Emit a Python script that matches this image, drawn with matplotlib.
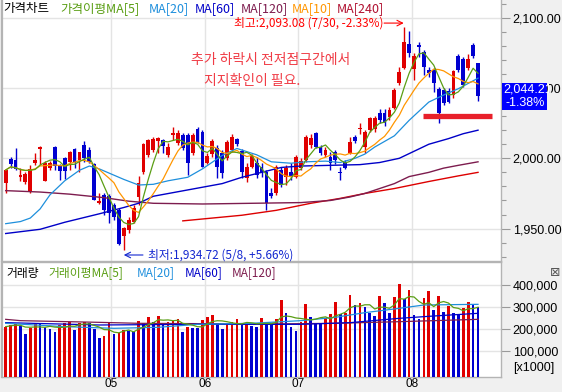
import matplotlib
matplotlib.use("Agg")
import matplotlib.pyplot as plt
import matplotlib.transforms as mtransforms
from matplotlib.patches import Rectangle
from matplotlib.ticker import MultipleLocator, FuncFormatter
import numpy as np
import pandas as pd

KR = ["Noto Sans CJK KR", "DejaVu Sans"]
NUM = ["Liberation Sans Narrow", "Liberation Sans", "DejaVu Sans"]
plt.rcParams["font.family"] = NUM

# 일봉 데이터 (4월 초 ~ 8월 하순, 97 거래일)
opens = [1982.7, 1999.5, 1998.8, 1986.5, 1983.4, 1976.3, 1996.9, 2006.9, 1984.1, 1992.9,
         2008.3, 1994.5, 2000.4, 1997.6, 2006.4, 1998.8, 2009.5, 2005.9, 1996.0, 1968.0,
         1973.9, 1973.2, 1966.8, 1963.2, 1944.7, 1949.0, 1954.9, 1972.2, 1990.0, 2002.4,
         2005.9, 2012.3, 2013.0, 2002.4, 2016.6, 2010.6, 2016.6, 2016.6, 2003.5, 2020.6,
         2018.9, 1996.9, 2003.0, 2007.1, 2003.5, 1999.9, 2005.9, 2013.5, 2005.2, 1985.7,
         1994.0, 1996.4, 1994.0, 1990.5, 1975.1, 1975.1, 1991.7, 1986.9, 1990.5, 1986.9,
         1992.9, 1998.8, 2009.5, 2017.8, 2008.3, 2002.4, 2001.2, 2004.7, 1990.5, 1997.6,
         2004.0, 2014.9, 2020.6, 2008.3, 2020.1, 2020.6, 2032.4, 2032.4, 2029.6, 2035.5,
         2053.3, 2064.0, 2081.3, 2063.3, 2080.5, 2075.8, 2062.8, 2062.8, 2049.3, 2048.6,
         2048.1, 2045.0, 2072.8, 2070.4, 2064.0, 2080.6, 2067.5]
highs = [1992.5, 2001.2, 2007.1, 1992.9, 1990.5, 1995.0, 2003.5, 2008.7, 1998.3, 1998.0,
         2008.7, 1996.0, 2001.2, 2005.2, 2007.1, 2004.7, 2012.5, 2008.3, 1997.0, 1975.1,
         1975.1, 1974.6, 1968.0, 1964.4, 1951.0, 1958.0, 1966.8, 1987.4, 2011.0, 2013.5,
         2015.4, 2015.4, 2014.0, 2010.7, 2022.5, 2020.1, 2017.8, 2017.8, 2017.8, 2022.5,
         2020.1, 2003.5, 2014.0, 2009.5, 2005.9, 2013.0, 2017.0, 2014.7, 2006.4, 1996.4,
         2003.0, 2001.2, 1996.4, 1991.7, 1978.6, 1995.2, 1994.0, 1995.2, 1996.4, 2002.4,
         2000.0, 2016.6, 2017.0, 2018.9, 2009.5, 2008.3, 2004.7, 2006.0, 1994.0, 1998.8,
         2015.4, 2016.6, 2024.9, 2020.0, 2029.6, 2030.1, 2034.8, 2034.8, 2036.2, 2049.8,
         2065.2, 2093.08, 2090.5, 2074.7, 2082.5, 2077.0, 2065.2, 2064.0, 2051.0, 2049.8,
         2049.8, 2062.8, 2073.9, 2071.8, 2073.9, 2082.2, 2068.0]
lows = [1975.0, 1992.9, 1991.7, 1984.1, 1981.5, 1975.5, 1995.2, 1995.2, 1983.5, 1991.5,
        1991.7, 1984.6, 1985.0, 1991.7, 1992.9, 1990.5, 1997.6, 1996.4, 1970.0, 1967.5,
        1959.7, 1954.2, 1956.1, 1938.5, 1934.72, 1947.0, 1953.7, 1966.8, 1989.0, 2001.2,
        2004.7, 2003.5, 2004.0, 2001.2, 2013.0, 2009.5, 2005.9, 1988.1, 2002.4, 2010.6,
        1993.6, 1996.0, 2001.0, 1985.7, 1985.7, 1998.8, 2004.7, 2008.7, 1985.7, 1983.4,
        1992.9, 1985.7, 1986.9, 1963.2, 1971.5, 1973.9, 1979.8, 1981.0, 1984.6, 1985.7,
        1992.0, 1997.6, 2007.0, 2007.0, 2002.4, 2001.2, 1991.7, 1996.0, 1984.6, 1992.2,
        2003.0, 2010.6, 2017.0, 2004.0, 2018.9, 2018.9, 2024.9, 2023.0, 2027.2, 2034.8,
        2052.1, 2063.3, 2072.3, 2055.7, 2072.0, 2059.2, 2058.0, 2046.9, 2025.3, 2037.9,
        2039.1, 2042.6, 2061.6, 2051.0, 2062.8, 2071.1, 2041.0]
closes = [1991.7, 1996.0, 1992.2, 1988.1, 1988.8, 1992.4, 1998.8, 2008.3, 1996.9, 1996.9,
          1994.5, 1991.2, 1991.2, 2004.2, 1997.6, 2004.2, 2000.0, 1997.6, 1970.3, 1969.6,
          1963.2, 1960.9, 1958.5, 1939.0, 1950.2, 1956.1, 1964.4, 1982.7, 2010.2, 2013.0,
          2013.5, 2014.7, 2009.0, 2008.3, 2017.8, 2017.8, 2007.1, 1996.9, 2016.6, 2011.8,
          1994.0, 2001.6, 2012.0, 1994.0, 1989.3, 2011.8, 2015.4, 2010.2, 1990.0, 1994.0,
          2001.6, 1988.1, 1990.5, 1968.0, 1973.2, 1994.0, 1981.0, 1992.9, 1986.9, 2001.2,
          1998.1, 2015.4, 2014.2, 2008.3, 2003.5, 2005.9, 1996.4, 1998.8, 1989.3, 1992.9,
          2011.8, 2012.3, 2021.3, 2018.9, 2028.4, 2028.9, 2027.2, 2024.9, 2034.3, 2048.6,
          2061.6, 2083.0, 2075.1, 2072.8, 2079.0, 2065.2, 2060.5, 2053.8, 2032.0, 2039.1,
          2040.3, 2062.1, 2062.8, 2052.1, 2070.4, 2072.8, 2044.21]
# 거래량 (x1000)
volumes = [211500, 219000, 223500, 216000, 178300, 207000, 226600, 222000, 208500, 201000,
           189000, 219000, 226600, 234000, 196400, 226600, 234000, 229600, 199400, 158700,
           169300, 229600, 176800, 184300, 196400, 193400, 189000, 237100, 226600, 256700,
           234000, 259700, 226600, 232600, 238600, 244700, 188900, 211500, 207000, 204000,
           241600, 256700, 262800, 226600, 199400, 223500, 232600, 244700, 222000, 229600,
           214500, 211500, 249200, 226600, 223500, 244700, 332100, 271800, 211500, 193400,
           234000, 314000, 256700, 229600, 226600, 252200, 268800, 321600, 267300, 271800,
           354700, 309500, 317000, 298900, 271800, 259700, 350200, 317000, 274800, 347200,
           404500, 335100, 377400, 264300, 246200, 339700, 372800, 286900, 350200, 276300,
           305000, 271800, 268800, 294400, 321600, 309500, 302000]

month_labels = ["05", "06", "07", "08"]
month_starts = [22, 41, 60, 83]

# 이동평균선
ma20_idx = [0, 3, 5, 7, 9, 12, 15, 17, 19, 22, 24, 27, 30, 33, 37, 40, 44, 47, 51, 54,
            58, 61, 65, 68, 71, 73, 75, 79, 82, 86, 89, 92, 96]
ma20_val = [1953.5, 1955.0, 1957.5, 1964.0, 1974.0, 1984.0, 1991.5, 1994.5, 1992.5, 1988.0,
            1985.0, 1981.0, 1981.5, 1984.0, 1986.5, 1992.5, 2002.0, 2007.0, 2002.5, 1997.5,
            1996.5, 1997.5, 1998.0, 1997.0, 2000.0, 2003.0, 2008.0, 2016.0, 2027.0, 2040.0,
            2045.0, 2049.5, 2057.0]
ma60_idx = [0, 7, 12, 19, 24, 27, 30, 37, 44, 48, 52, 56, 60, 66, 72, 76, 80, 83, 86, 90, 93, 96]
ma60_val = [1946.5, 1949.5, 1954.5, 1960.5, 1965.0, 1968.0, 1973.0, 1977.5, 1982.0, 1986.5,
            1990.0, 1993.5, 1994.5, 1995.0, 1995.5, 1997.0, 2000.0, 2005.0, 2010.0, 2014.0,
            2017.5, 2020.0]
ma120_idx = [0, 7, 13, 20, 25, 30, 40, 50, 60, 66, 70, 73, 79, 82, 86, 89, 92, 96]
ma120_val = [1977.0, 1976.0, 1974.5, 1972.0, 1969.5, 1968.0, 1967.5, 1968.0, 1968.5, 1970.0,
             1972.5, 1975.0, 1982.0, 1987.0, 1990.0, 1993.0, 1995.0, 1997.5]
ma240_idx = [36, 48, 55, 62, 68, 73, 79, 86, 92, 96]
ma240_val = [1955.5, 1959.5, 1963.0, 1968.0, 1971.5, 1975.0, 1978.5, 1983.5, 1987.5, 1990.0]

vma20_idx = [0, 12, 22, 31, 39, 50, 60, 67, 73, 80, 85, 96]
vma20_val = [226600, 211500, 204000, 208500, 222000, 226600, 238600, 253700, 274800,
             294400, 309500, 312500]
vma60_idx = [0, 19, 39, 60, 70, 80, 87, 96]
vma60_val = [229600, 219000, 222000, 222000, 229600, 249200, 259700, 271800]
vma120_idx = [0, 3, 19, 27, 53, 67, 80, 96]
vma120_val = [244600, 238600, 231000, 226600, 223500, 226600, 234000, 244600]

high_date, low_date = "7/30", "5/8"
support_level = 2030.4
note_lines = ["추가 하락시 전저점구간에서", "지지확인이 필요."]

RED = "#e00000"
BLUE = "#0000d0"
GREEN = "#5a9e14"
ORANGE = "#ff9600"
LBLUE = "#1e8fdc"
DBLUE = "#0000c8"
MAROON = "#7d1c4e"
MA240C = "#dd0000"
GRID = "#e4e4e4"
SPINE = "#b4b4b4"

W, H = 562, 392


def frame(l, t, r, b):
    return [l / W, 1 - b / H, (r - l) / W, (b - t) / H]


def fx(px):
    return px / W


def fy(py):
    return 1 - py / H


fig = plt.figure(figsize=(W / 100, H / 100), dpi=100, facecolor="#f0f0f0")
ax = fig.add_axes(frame(2, 0, 501, 261))
axv = fig.add_axes(frame(2, 262, 501, 377))

n = len(closes)
x = np.arange(n)
o, hi, lo, c = map(np.array, (opens, highs, lows, closes))
col = np.where(c >= o, RED, BLUE)

# 캔들
ax.vlines(x, lo, hi, colors=col, lw=1.0, zorder=3)
ax.bar(x, np.maximum(np.abs(c - o), 0.8), bottom=np.minimum(o, c), width=0.78,
       color=col, lw=0, zorder=4)

s = pd.Series(closes)
ma5 = s.rolling(5, min_periods=1).mean()
ma10 = s.rolling(10, min_periods=1).mean()
ax.plot(ma240_idx, ma240_val, color=MA240C, lw=1.0, zorder=5)
ax.plot(ma120_idx, ma120_val, color=MAROON, lw=1.0, zorder=5)
ax.plot(ma60_idx, ma60_val, color=DBLUE, lw=1.0, zorder=5)
ax.plot(ma20_idx, ma20_val, color=LBLUE, lw=0.9, zorder=5)
ax.plot(x, ma10, color=ORANGE, lw=0.9, zorder=5)
ax.plot(x, ma5, color=GREEN, lw=0.9, zorder=6)

ax.set_xlim(-0.75, 100.67)
ax.set_ylim(1926.95, 2112.6)

bounds = [m - 0.5 for m in month_starts]
for a in (ax, axv):
    a.set_facecolor("white")
    a.set_xticks(bounds)
    a.grid(True, which="major", color=GRID, lw=1.0)
    a.set_axisbelow(True)
    a.yaxis.tick_right()
    a.tick_params(axis="y", which="major", length=6.5, width=0.8, color="#9a9a9a",
                  pad=2, labelsize=9)
    a.tick_params(axis="y", which="minor", length=3.5, width=0.8, color="#9a9a9a")
    a.tick_params(axis="x", length=0)
    for sp in a.spines.values():
        sp.set_color(SPINE)
        sp.set_linewidth(1.0)
ax.spines["top"].set_visible(False)
ax.spines["left"].set_linewidth(1.6)
axv.spines["left"].set_linewidth(1.6)

ax.set_yticks([1950, 2000, 2050, 2100])
ax.yaxis.set_minor_locator(MultipleLocator(10))
ax.yaxis.set_major_formatter(FuncFormatter(lambda v, p: f"{v:,.2f}"))
ax.set_xticklabels([])

# 최고/최저 표시
i_hi = int(np.argmax(hi))
i_lo = int(np.argmin(lo))
last = closes[-1]
ax.annotate("", xy=(i_hi - 0.1, hi[i_hi] + 3.1), xytext=(i_hi - 4.1, hi[i_hi] + 3.1),
            arrowprops=dict(arrowstyle="->", color="#ff0000", lw=0.8, shrinkA=0, shrinkB=0),
            zorder=7)
ax.text(i_hi - 4.3, hi[i_hi] + 3.1,
        f"최고:{hi[i_hi]:,.2f} ({high_date}, {(last / hi[i_hi] - 1) * 100:+.2f}%)",
        color="#ff0000", fontsize=8.5, family=KR, ha="right", va="center", zorder=7)
ax.annotate("", xy=(i_lo, lo[i_lo] - 3.5), xytext=(i_lo + 3.9, lo[i_lo] - 3.5),
            arrowprops=dict(arrowstyle="->", color="#1428d0", lw=0.8, shrinkA=0, shrinkB=0),
            zorder=7)
ax.text(i_lo + 4.9, lo[i_lo] - 3.5,
        f"최저:{lo[i_lo]:,.2f} ({low_date}, {(last / lo[i_lo] - 1) * 100:+.2f}%)",
        color="#1428d0", fontsize=8.5, family=KR, ha="left", va="center", zorder=7)

# 지지선
ax.plot([84.8, 98.8], [support_level, support_level], color="#e8202a", lw=3.8,
        solid_capstyle="butt", zorder=7)

# 코멘트
fig.text(fx(191), fy(60), note_lines[0], color="#f03c46", fontsize=10, family=KR, va="center")
fig.text(fx(204), fy(81), note_lines[1], color="#f03c46", fontsize=10, family=KR, va="center")

# 현재가 박스
trans = mtransforms.blended_transform_factory(fig.transFigure, ax.transData)
chg = (last / closes[-2] - 1) * 100
ax.add_patch(Rectangle((fx(502), last - 9.6), fx(547) - fx(502), 19.2, transform=trans,
                       facecolor="#0000ff", edgecolor="none", clip_on=False, zorder=8))
ax.text(fx(503), last + 4.9, f"{last:,.2f}", transform=trans, color="white", fontsize=9,
        va="center", ha="left", clip_on=False, zorder=9)
ax.text(fx(505), last - 4.9, f"{chg:.2f}%", transform=trans, color="white", fontsize=9,
        va="center", ha="left", clip_on=False, zorder=9)

# 거래량
v = np.array(volumes, dtype=float)
vcol = np.where(np.diff(v, prepend=v[0] - 1) > 0, RED, BLUE)
vbot = -16300
axv.bar(x, v - vbot, bottom=vbot, width=0.55, color=vcol, lw=0, zorder=3)
vma5 = pd.Series(volumes).rolling(5, min_periods=1).mean()
axv.plot(vma120_idx, vma120_val, color=MAROON, lw=0.9, zorder=4)
axv.plot(vma60_idx, vma60_val, color=DBLUE, lw=0.9, zorder=4)
axv.plot(vma20_idx, vma20_val, color=LBLUE, lw=0.9, zorder=4)
axv.plot(x, vma5, color=GREEN, lw=0.9, zorder=5)
axv.set_xlim(-0.75, 100.67)
axv.set_ylim(vbot, 504000)
axv.set_yticks([100000, 200000, 300000, 400000])
axv.yaxis.set_major_formatter(FuncFormatter(lambda val, p: f"{val:,.0f}"))
axv.set_xticklabels(month_labels, fontsize=8.5)
axv.tick_params(axis="x", pad=1)

# 범례
top_items = [("가격차트", "black", 3), ("가격이평MA[5]", GREEN, 60), ("MA[20]", LBLUE, 149),
             ("MA[60]", DBLUE, 195), ("MA[120]", MAROON, 241), ("MA[10]", ORANGE, 292),
             ("MA[240]", "#b01030", 337)]
for label, color, px in top_items:
    fig.text(fx(px), fy(8.5), label, color=color, fontsize=9, family=KR, va="center")
vol_items = [("거래량", "black", 6), ("거래이평MA[5]", GREEN, 48), ("MA[20]", LBLUE, 137),
             ("MA[60]", DBLUE, 185), ("MA[120]", MAROON, 232)]
for label, color, px in vol_items:
    fig.text(fx(px), fy(273), label, color=color, fontsize=8.5, family=KR, va="center")

fig.text(fx(513), fy(368), "[x1000]", fontsize=9, va="center")
fig.text(fx(555.5), fy(272), "\u22a0", fontsize=9, family=["DejaVu Sans"], color="#555555",
         ha="center", va="center")

fig.savefig("out.png", dpi=100, facecolor=fig.get_facecolor())
